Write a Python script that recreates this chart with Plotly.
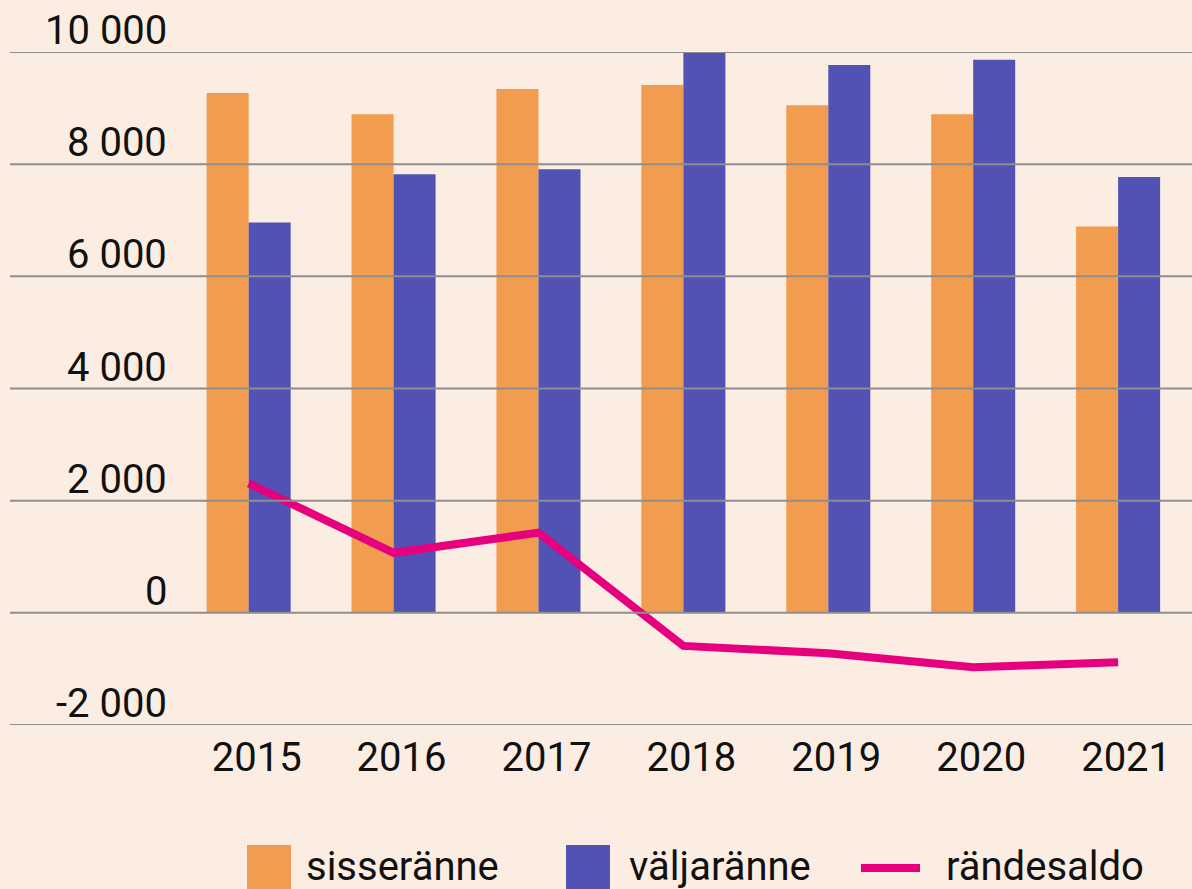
import plotly.graph_objects as go

years = ['2015', '2016', '2017', '2018', '2019', '2020', '2021']
sisseranne = [9270, 8890, 9340, 9410, 9050, 8890, 6890]
valjaranne = [6960, 7820, 7910, 10000, 9770, 9860, 7770]
randesaldo = [2310, 1070, 1430, -590, -720, -970, -880]
y_ticks = [-2000, 0, 2000, 4000, 6000, 8000, 10000]
y_tick_text = ['-2 000', '0', '2 000', '4 000', '6 000', '8 000', '10 000']

BG = '#FCEDE3'
ORANGE = '#F19C4F'
BLUE = '#5152B4'
MAGENTA = '#E6007E'
GRID = '#8E8E8E'
TEXT = '#111111'
FONT = 'Roboto'
FS = 40

W, H = 1192, 889
ML, MR, MT, MB = 10, 0, 52, 164
PW, PH = W - ML - MR, H - MT - MB


def px(x):
    return (x - ML) / PW


def py(y):
    return (H - MB - y) / PH


fig = go.Figure()
fig.add_trace(go.Bar(x=years, y=sisseranne, name='sisseränne', marker_color=ORANGE,
                     marker_line_width=0))
fig.add_trace(go.Bar(x=years, y=valjaranne, name='väljaränne', marker_color=BLUE,
                     marker_line_width=0))
fig.add_trace(go.Scatter(x=years, y=randesaldo, name='rändesaldo', mode='lines',
                         line=dict(color=MAGENTA, width=8)))

# gridlines above the marks, like the original
shapes = [dict(type='line', xref='paper', yref='y', x0=0, x1=1, y0=v, y1=v,
               line=dict(color=GRID, width=2), layer='above') for v in y_ticks]

annotations = [dict(text=t, xref='paper', yref='y', x=px(169), y=v, xanchor='right',
                    yanchor='bottom', showarrow=False, yshift=-4,
                    font=dict(family=FONT, size=FS, color=TEXT))
               for v, t in zip(y_ticks, y_tick_text)]

# legend drawn by hand (large swatches)
legend_items = [('sisseränne', ORANGE, 'box', 247, 304),
                ('väljaränne', BLUE, 'box', 566, 627),
                ('rändesaldo', MAGENTA, 'line', 861, 944)]
for label, color, kind, sx, tx in legend_items:
    if kind == 'box':
        shapes.append(dict(type='rect', xref='paper', yref='paper',
                           x0=px(sx), x1=px(sx + 44), y0=py(845), y1=py(889),
                           fillcolor=color, line=dict(width=0)))
    else:
        shapes.append(dict(type='line', xref='paper', yref='paper',
                           x0=px(sx), x1=px(sx + 59), y0=py(868), y1=py(868),
                           line=dict(color=color, width=8)))
    annotations.append(dict(text=label, xref='paper', yref='paper', x=px(tx), y=py(866),
                            xanchor='left', yanchor='middle', showarrow=False,
                            font=dict(family=FONT, size=FS, color=TEXT)))

fig.update_layout(
    width=W, height=H, paper_bgcolor=BG, plot_bgcolor=BG,
    margin=dict(l=ML, r=MR, t=MT, b=MB),
    barmode='group', bargap=0.42, bargroupgap=0,
    showlegend=False,
    font=dict(family=FONT, size=FS, color=TEXT),
    xaxis=dict(range=[-1.647, 6.51], showgrid=False, zeroline=False, showline=False,
               ticks='', tickfont=dict(size=FS, color=TEXT), ticklabelshift=8,
               ticklabelstandoff=5),
    yaxis=dict(range=[-2000, 10000], showgrid=False, zeroline=False, showline=False,
               showticklabels=False, ticks=''),
    shapes=shapes, annotations=annotations,
)

fig.write_html('out.html', config={'displayModeBar': False},
               post_script="document.body.style.margin='0';document.body.style.overflow='hidden';")
